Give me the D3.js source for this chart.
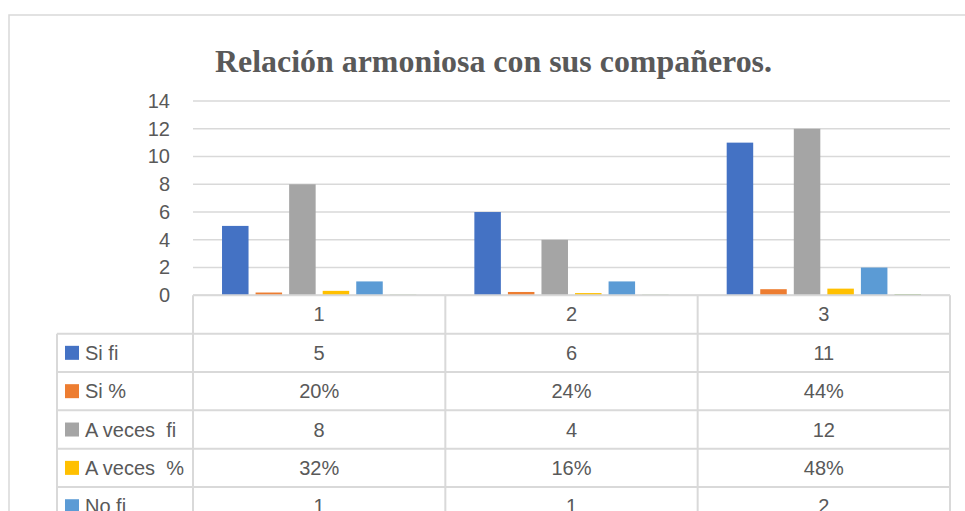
<!DOCTYPE html>
<html>
<head>
<meta charset="utf-8">
<script src="https://cdn.jsdelivr.net/npm/d3@7"></script>
<style>
  html, body { margin: 0; padding: 0; background: #fff; overflow: hidden; }
  text { white-space: pre; }
</style>
</head>
<body>
<svg id="chart" width="965" height="511"></svg>
<script>
// ---- data ----
const title = "Relación armoniosa con sus compañeros.";
const categories = ["1", "2", "3"];
const seriesNames = ["Si fi", "Si %", "A veces  fi", "A veces  %", "No fi", "No %"];
const siFi = [5, 6, 11];
const siPct = [0.20, 0.24, 0.44];
const aVecesFi = [8, 4, 12];
const aVecesPct = [0.32, 0.16, 0.48];
const noFi = [1, 1, 2];
const noPct = [0.04, 0.04, 0.08];
const seriesIsPct = [false, true, false, true, false, true];
const yTicks = [0, 2, 4, 6, 8, 10, 12, 14];
const colors = ["#4472C4", "#ED7D31", "#A5A5A5", "#FFC000", "#5B9BD5", "#70AD47"];

const seriesValues = [siFi, siPct, aVecesFi, aVecesPct, noFi, noPct];
const series = seriesNames.map((name, i) => ({ name, values: seriesValues[i], pct: seriesIsPct[i], color: colors[i] }));

// ---- layout ----
const svg = d3.select("#chart");
const plotLeft = 193, plotRight = 950, plotTop = 101, plotBottom = 295.3;
const rowH = 38.35;
const legendLeft = 57;
const textColor = "#595959";
const lineColor = "#D9D9D9";
const font = "'Liberation Sans', Arial, sans-serif";
const fs = 20;

// outer chart border
svg.append("path")
  .attr("d", `M9,520 L9,15 L970,15`)
  .attr("fill", "none").attr("stroke", lineColor).attr("stroke-width", 1.5);

// title
svg.append("text")
  .attr("x", 215).attr("y", 72)
  .attr("textLength", 557).attr("lengthAdjust", "spacingAndGlyphs")
  .attr("font-family", "'Liberation Serif', 'Times New Roman', serif")
  .attr("font-weight", "bold").attr("font-size", 32)
  .attr("fill", textColor)
  .text(title);

const x0 = d3.scaleBand().domain(categories).range([plotLeft, plotRight]).padding(0);
const x1 = d3.scaleBand().domain(seriesNames).range([0, x0.bandwidth()])
  .paddingInner(0.21).paddingOuter(0.865);
const y = d3.scaleLinear().domain([0, 14]).range([plotBottom, plotTop]);

// gridlines
svg.append("g").selectAll("line").data(yTicks).join("line")
  .attr("x1", plotLeft).attr("x2", plotRight)
  .attr("y1", d => y(d)).attr("y2", d => y(d))
  .attr("stroke", lineColor).attr("stroke-width", 1.5);

// y axis labels
const yAxis = d3.axisLeft(y).tickValues(yTicks).tickSize(0).tickPadding(0).tickFormat(d3.format("d"));
const ya = svg.append("g").attr("transform", `translate(170,0)`).call(yAxis);
ya.select(".domain").remove();
ya.selectAll("text").attr("font-family", font).attr("font-size", fs).attr("fill", textColor);

// bars
const groups = svg.append("g").selectAll("g").data(series).join("g").attr("fill", d => d.color);
groups.selectAll("rect")
  .data(s => s.values.map((v, i) => ({ v, cat: categories[i], name: s.name })))
  .join("rect")
  .attr("x", d => x0(d.cat) + x1(d.name))
  .attr("width", x1.bandwidth())
  .attr("y", d => y(d.v))
  .attr("height", d => y(0) - y(d.v));

// ---- data table ----
const table = svg.append("g");
const nRows = series.length;
table.append("line").attr("x1", plotLeft).attr("x2", plotRight)
  .attr("y1", plotBottom).attr("y2", plotBottom)
  .attr("stroke", lineColor).attr("stroke-width", 2);
for (let r = 1; r <= nRows + 1; r++) {
  const yy = plotBottom + r * rowH;
  table.append("line").attr("x1", legendLeft).attr("x2", plotRight)
    .attr("y1", yy).attr("y2", yy)
    .attr("stroke", lineColor).attr("stroke-width", 2);
}
const tableBottom = plotBottom + (nRows + 1) * rowH;
table.append("line").attr("x1", legendLeft).attr("x2", legendLeft)
  .attr("y1", plotBottom + rowH).attr("y2", tableBottom)
  .attr("stroke", lineColor).attr("stroke-width", 2);
[...categories.map(c => x0(c)), plotRight].forEach(xx => {
  table.append("line").attr("x1", xx).attr("x2", xx)
    .attr("y1", plotBottom).attr("y2", tableBottom)
    .attr("stroke", lineColor).attr("stroke-width", 2);
});
table.selectAll("text.hdr").data(categories).join("text").attr("class", "hdr")
  .attr("x", d => x0(d) + x0.bandwidth() / 2)
  .attr("y", plotBottom + rowH / 2)
  .attr("dy", "0.35em").attr("text-anchor", "middle")
  .attr("font-family", font).attr("font-size", fs).attr("fill", textColor)
  .text(d => d);
const pctFmt = d3.format(".0%");
series.forEach((s, r) => {
  const cy = plotBottom + (r + 1) * rowH + rowH / 2;
  table.append("rect").attr("x", 65).attr("y", cy - 7).attr("width", 14).attr("height", 14).attr("fill", s.color);
  table.append("text").attr("x", 85).attr("y", cy).attr("dy", "0.35em")
    .attr("font-family", font).attr("font-size", fs).attr("fill", textColor)
    .text(s.name);
  s.values.forEach((v, i) => {
    table.append("text")
      .attr("x", x0(categories[i]) + x0.bandwidth() / 2)
      .attr("y", cy).attr("dy", "0.35em").attr("text-anchor", "middle")
      .attr("font-family", font).attr("font-size", fs).attr("fill", textColor)
      .text(s.pct ? pctFmt(v) : d3.format("d")(v));
  });
});
</script>
</body>
</html>
